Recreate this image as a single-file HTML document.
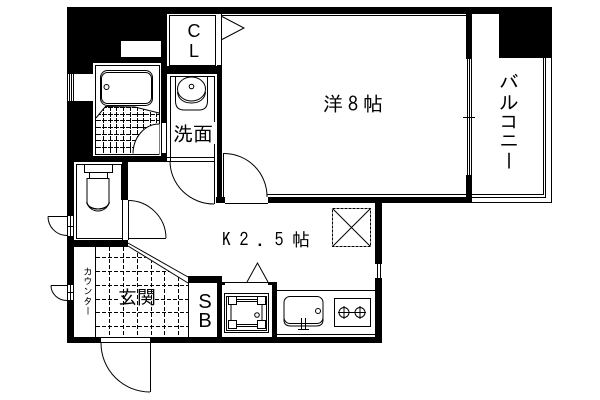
<!DOCTYPE html>
<html><head><meta charset="utf-8">
<style>
html,body{margin:0;padding:0;background:#fff;width:600px;height:400px;overflow:hidden}
svg{display:block}
text{font-family:"IPAGothic","Liberation Sans","Noto Sans CJK JP",sans-serif;fill:#000}
.l{font-family:"Liberation Sans","IPAGothic",sans-serif}
</style></head><body>
<svg width="600" height="400" viewBox="0 0 600 400" xmlns="http://www.w3.org/2000/svg">
<defs>
<clipPath id="bt"><path d="M96 118L105 107L135 107L159 114L159 154L96 154Z"/></clipPath>
<clipPath id="et"><path d="M96 247L128 247L188 283L188 337L96 337Z"/></clipPath>
</defs>
<rect width="600" height="400" fill="#fff"/>
<g shape-rendering="crispEdges" fill="#000" stroke="none">
<rect x="67" y="7" width="485" height="7"/>
<rect x="67" y="7" width="100" height="155"/>
<rect x="161" y="14" width="61" height="60"/>
<rect x="499" y="7" width="53" height="51"/>
<rect x="67" y="162" width="7" height="181"/>
<rect x="122" y="156" width="6" height="44"/>
<rect x="67" y="240" width="61" height="7"/>
<rect x="217" y="65" width="5" height="138"/>
<rect x="216" y="197" width="256" height="6"/>
<rect x="466" y="14" width="6" height="189"/>
<rect x="375" y="197" width="7" height="146"/>
<rect x="67" y="337" width="315" height="6"/>
<rect x="188" y="276" width="34" height="7"/>
<rect x="217" y="276" width="5" height="67"/>
<rect x="222" y="282" width="55" height="3"/>
<rect x="272" y="282" width="5" height="61"/>
</g>
<g shape-rendering="crispEdges" fill="#fff" stroke="none">
<rect x="121" y="41" width="40" height="16"/>
<rect x="93" y="63" width="68" height="93"/>
<rect x="68" y="74" width="25" height="27"/>
<rect x="161" y="123" width="6" height="30"/>
<rect x="167" y="14" width="50" height="52"/>
<rect x="217" y="14" width="4" height="51"/>
<rect x="167" y="74" width="50" height="88"/>
<rect x="167" y="157" width="48" height="5"/>
<rect x="466" y="59" width="6" height="116"/>
<rect x="122" y="200" width="6" height="40"/>
<rect x="67" y="216" width="7" height="20"/>
<rect x="67" y="285" width="7" height="15"/>
<rect x="101" y="337" width="49" height="6"/>
<rect x="225" y="197" width="43" height="6"/>
<rect x="375" y="263" width="7" height="16"/>
<rect x="225" y="283" width="43" height="4"/>
<rect x="222" y="288" width="50" height="49"/>
</g>
<g shape-rendering="crispEdges" fill="none" stroke="#000" stroke-width="1">
<rect x="169.500" y="15.500" width="46" height="50"/>
<path d="M222 15.500H466"/>
<path d="M221.500 14V65"/>
<path d="M159 65.500H95.500V154.500H159V124"/>
<path d="M159.500 65V124"/>
<path d="M69.500 74V101M71.500 74V101M73.500 74V101"/>
<path d="M161.500 123V153M166.500 123V153"/>
<path d="M170.500 162V76.500H214.500V162"/>
<path d="M167 157.500H215M167 161.500H215"/>
<path d="M214.500 161V204"/>
<path d="M467.500 59V175M471.500 59V175M469.500 59V175"/>
<path d="M463 117.500H475"/>
<path d="M267 194.500H466"/>
<path d="M472 194.500H543.500V58M472 197.500H545.500V58M472 202.500H551.500V58"/>
<path d="M223.500 153V197"/>
<path d="M225 203.500H268"/>
<path d="M122 164.500H76.500V238.500H122"/>
<path d="M121.500 164V200"/>
<path d="M122.500 200V240M128.500 200V240"/>
<path d="M128 238.500H166"/>
<path d="M84.500 164V172.500H112.500V164"/>
<path d="M89.500 172V178M107.500 172V178"/>
<path d="M48 216.500H67"/>
<path d="M67.500 216V236M70.500 216V236M73.500 216V236M67 226.500H74"/>
<path d="M95.500 247V337"/>
<path d="M188.500 283V337"/>
<path d="M67.500 285V300M70.500 285V300M73.500 285V300M67 292.500H74"/>
<path d="M51 285.500H67"/>
<path d="M101 337.500H150M101 342.500H150"/>
<path d="M150.500 337V392"/>
<g clip-path="url(#et)" stroke-dasharray="4 2">
<path d="M109.500 247V343M123.500 247V337M137.500 247V337M151.500 247V337M164.500 247V337M178.500 247V337"/>
<path d="M96 257.500H188M96 271.500H188M96 285.500H188M96 299.500H118M155 299.500H188M96 312.500H188M96 326.500H188"/>
</g>
<path d="M375 263.500H382M375 278.500H382M377.500 263V279M380.500 263V279"/>
<path d="M277 290.500H375"/>
<path d="M277 334.500H375"/>
<rect x="334.500" y="298.500" width="36" height="28"/>
<rect x="332.500" y="208.500" width="38" height="38" stroke-dasharray="3 1"/>
<rect x="224.500" y="293.500" width="44" height="39"/>
<rect x="226.500" y="296.500" width="40" height="34"/>
<rect x="228.500" y="296.500" width="8" height="8" fill="#fff"/>
<rect x="257.500" y="296.500" width="8" height="8" fill="#fff"/>
<rect x="228.500" y="320.500" width="8" height="8" fill="#fff"/>
<rect x="257.500" y="320.500" width="8" height="8" fill="#fff"/>
<path d="M231 304.500V320.500M262 304.500V320.500M236 299.500H258M236 326.500H258"/>
<path d="M236 301.500H258M236 324.500H258"/>
<path d="M301.500 318V329M305.500 318V329M298 329.500H309"/>
</g>
<g clip-path="url(#bt)" shape-rendering="crispEdges" stroke="#000" fill="none" stroke-dasharray="5 1">
<path d="M103.500 106V154M110.500 106V154M116.500 106V154M123.500 106V154M130.500 106V154M137.500 106V154M143.500 106V154M150.500 106V154M156.500 106V154"/>
<path d="M96 107.500H159M96 114.500H159M96 120.500H159M96 127.500H159M96 134.500H159M96 140.500H159M96 147.500H159"/>
</g>
<g fill="none" stroke="#000" stroke-width="1">
<path d="M159 124A26 30 0 0 0 133 154L159 154Z" fill="#fff" stroke="none"/>
<path d="M159 124A26 30 0 0 0 133 153.500"/>
<path d="M96 118L105 107"/>
<path d="M105 106.500L135 107L159 113"/>
<rect x="100.500" y="70.500" width="52" height="35" rx="7"/>
<rect x="101.500" y="72.500" width="50" height="31" rx="6"/>
<circle cx="106.500" cy="87" r="2.500"/>
<path d="M175.500 77V101Q175.500 110 184 110H199Q207.500 110 207.500 101V77"/>
<ellipse cx="191.500" cy="89" rx="14" ry="12"/>
<path d="M177.500 92C178 100 185 103 191.500 103C198 103 205 100 205.500 92"/>
<circle cx="191.500" cy="86.500" r="2.300"/>
<path d="M222 16.500L244 28L222 39.500"/>
<path d="M214 204A44 43 0 0 1 170 161"/>
<path d="M224 153.500A43 43 0 0 1 267 197"/>
<path d="M128 200.500A38 38 0 0 1 166 238"/>
<path d="M87 178.500H109V202C109 207 103 209 98 209C93 209 87 207 87 202Z"/>
<path d="M87 203C90 211 106 211 109 203"/>
<path d="M86.500 202C90 214 106 214 109.500 202"/>
<path d="M48 216.500A19 19 0 0 0 67 235.500"/>
<path d="M51 285.500A16 15 0 0 0 67 300.500"/>
<path d="M101 343A49 49 0 0 0 150 392"/>
<path d="M128 243L188 277"/>
<path d="M128 246L188 283"/>
<path d="M247 282L257.500 263L268 282"/>
<path d="M333 209L370 246M370 209L333 246"/>
<rect x="284" y="296.500" width="39" height="27" rx="6"/>
<path d="M284 317V320Q284 326 291 326H316Q323 326 323 320V317"/>
<circle cx="318" cy="311" r="2.500"/>
<circle cx="257" cy="315" r="2.300"/>
<circle cx="344" cy="312.500" r="5"/>
<circle cx="360" cy="312.500" r="5"/>
<path d="M338 312.500H366M344 306V319M360 306V319"/>
</g>
<rect x="171" y="122" width="46" height="22" fill="#fff"/>
<path d="M170.500 122V144" stroke="#000" shape-rendering="crispEdges"/>
<text x="194" y="37" font-size="18" class="l" text-anchor="middle">C</text>
<text x="194" y="57" font-size="18" class="l" text-anchor="middle">L</text>
<text x="323" y="111" font-size="20" textLength="60">洋8帖</text>
<text x="173" y="141" font-size="20" textLength="40">洗面</text>
<text x="222" y="246" font-size="18" textLength="88">K2.5帖</text>
<text x="118" y="304" font-size="19" textLength="38">玄関</text>
<text x="205" y="308" font-size="20" class="l" text-anchor="middle">S</text>
<text x="205" y="327" font-size="20" class="l" text-anchor="middle">B</text>
<text x="88" y="267" font-size="9.500" style="writing-mode:vertical-rl;glyph-orientation-vertical:0">カウンター</text>
<text x="509" y="72" font-size="19.500" style="writing-mode:vertical-rl;glyph-orientation-vertical:0">バルコニー</text>
</svg>
</body></html>
